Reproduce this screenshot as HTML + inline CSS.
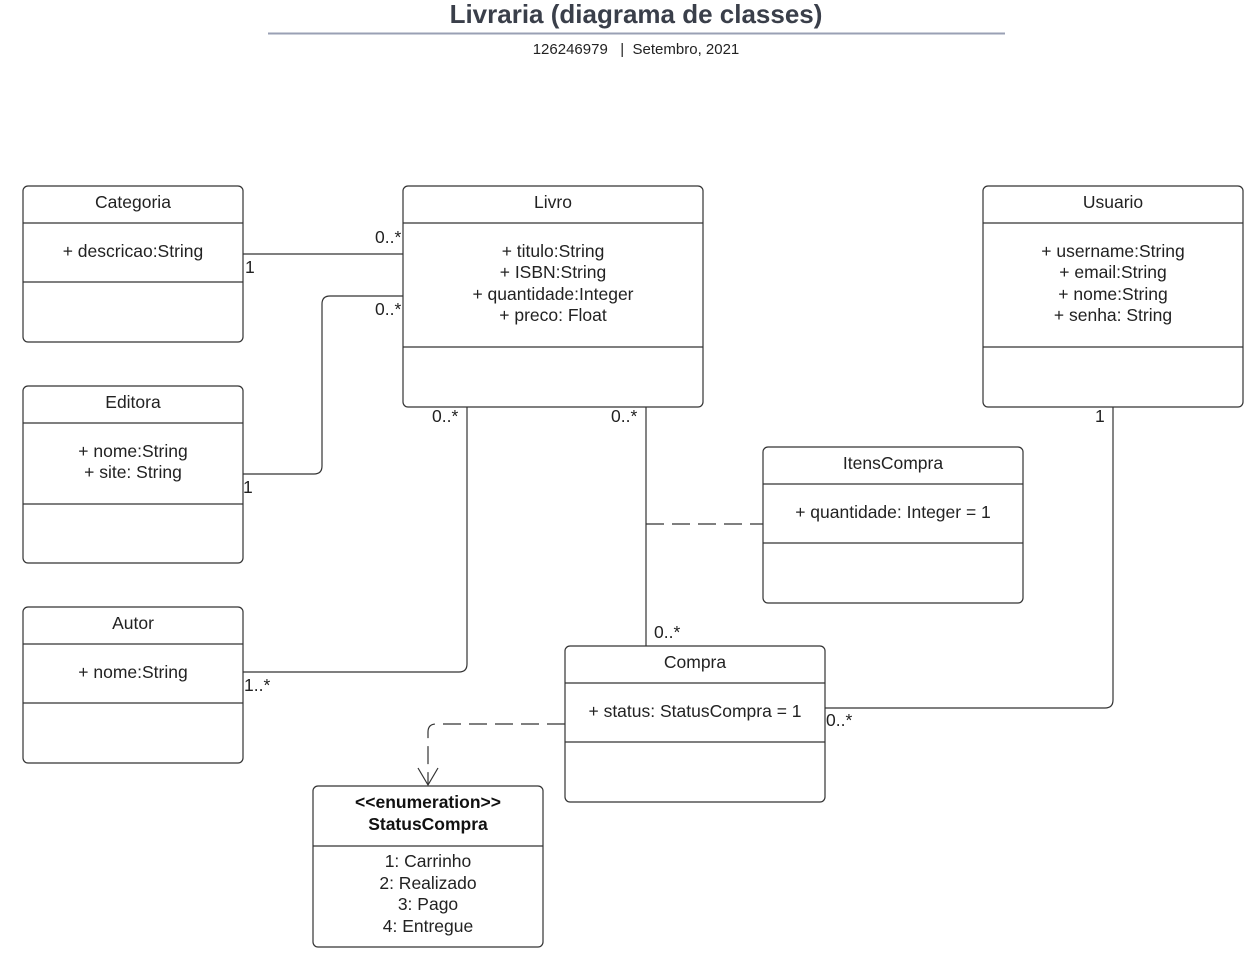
<!DOCTYPE html>
<html><head><meta charset="utf-8"><style>
html,body{margin:0;padding:0;background:#fff;}
svg{display:block;font-family:"Liberation Sans",sans-serif;}
.b{fill:#fff;stroke:#333;stroke-width:1.2;}
.l{stroke:#333;stroke-width:1.2;fill:none;}
.d{stroke:#333;stroke-width:1.2;fill:none;stroke-dasharray:18,8;}
text{fill:#222;font-size:17.5px;}
.c{text-anchor:middle;}
</style></head><body>
<svg width="1260" height="964" viewBox="0 0 1260 964">
<text x="636" y="23" class="c" style="font-size:26px;font-weight:bold;fill:#3a3f4a">Livraria (diagrama de classes)</text>
<line x1="268" y1="33.5" x2="1005" y2="33.5" stroke="#9aa0b4" stroke-width="2"/>
<text x="636" y="54" class="c" style="font-size:15px">126246979 &#160; | &#160;Setembro, 2021</text>

<path class="l" d="M243 254 H403"/>
<path class="l" d="M243 474 H314 Q322 474 322 466 V304 Q322 296 330 296 H403"/>
<path class="l" d="M243 672 H459 Q467 672 467 664 V407"/>
<path class="l" d="M646 407 V646"/>
<path class="d" d="M646 524 H763"/>
<path class="l" d="M1113 407 V700 Q1113 708 1105 708 H825"/>
<path class="d" d="M565 724 H436 Q428 724 428 732 V784"/>
<path class="l" d="M418 768 L428 785 L438 768"/>

<text x="245" y="273">1</text>
<text x="375" y="243">0..*</text>
<text x="243" y="493">1</text>
<text x="375" y="315">0..*</text>
<text x="244" y="691">1..*</text>
<text x="432" y="422">0..*</text>
<text x="611" y="422">0..*</text>
<text x="654" y="638">0..*</text>
<text x="1095" y="422">1</text>
<text x="826" y="726">0..*</text>

<rect class="b" x="23" y="186" width="220" height="156" rx="5"/>
<path class="l" d="M23 223H243M23 282H243"/>
<text x="133" y="208" class="c">Categoria</text>
<text x="133" y="257" class="c">+ descricao:String</text>

<rect class="b" x="403" y="186" width="300" height="221" rx="5"/>
<path class="l" d="M403 223H703M403 347H703"/>
<text x="553" y="208" class="c">Livro</text>
<text x="553" y="257" class="c">+ titulo:String</text>
<text x="553" y="278" class="c">+ ISBN:String</text>
<text x="553" y="300" class="c">+ quantidade:Integer</text>
<text x="553" y="321" class="c">+ preco: Float</text>

<rect class="b" x="983" y="186" width="260" height="221" rx="5"/>
<path class="l" d="M983 223H1243M983 347H1243"/>
<text x="1113" y="208" class="c">Usuario</text>
<text x="1113" y="257" class="c">+ username:String</text>
<text x="1113" y="278" class="c">+ email:String</text>
<text x="1113" y="300" class="c">+ nome:String</text>
<text x="1113" y="321" class="c">+ senha: String</text>

<rect class="b" x="23" y="386" width="220" height="177" rx="5"/>
<path class="l" d="M23 423H243M23 504H243"/>
<text x="133" y="408" class="c">Editora</text>
<text x="133" y="457" class="c">+ nome:String</text>
<text x="133" y="478" class="c">+ site: String</text>

<rect class="b" x="763" y="447" width="260" height="156" rx="5"/>
<path class="l" d="M763 484H1023M763 543H1023"/>
<text x="893" y="469" class="c">ItensCompra</text>
<text x="893" y="518" class="c">+ quantidade: Integer = 1</text>

<rect class="b" x="23" y="607" width="220" height="156" rx="5"/>
<path class="l" d="M23 644H243M23 703H243"/>
<text x="133" y="629" class="c">Autor</text>
<text x="133" y="678" class="c">+ nome:String</text>

<rect class="b" x="565" y="646" width="260" height="156" rx="5"/>
<path class="l" d="M565 683H825M565 742H825"/>
<text x="695" y="668" class="c">Compra</text>
<text x="695" y="717" class="c">+ status: StatusCompra = 1</text>

<rect class="b" x="313" y="786" width="230" height="161" rx="5"/>
<path class="l" d="M313 846H543"/>
<text x="428" y="808" class="c" style="font-weight:bold;fill:#111">&lt;&lt;enumeration&gt;&gt;</text>
<text x="428" y="830" class="c" style="font-weight:bold;fill:#111">StatusCompra</text>
<text x="428" y="867" class="c">1: Carrinho</text>
<text x="428" y="889" class="c">2: Realizado</text>
<text x="428" y="910" class="c">3: Pago</text>
<text x="428" y="932" class="c">4: Entregue</text>
</svg>
</body></html>
